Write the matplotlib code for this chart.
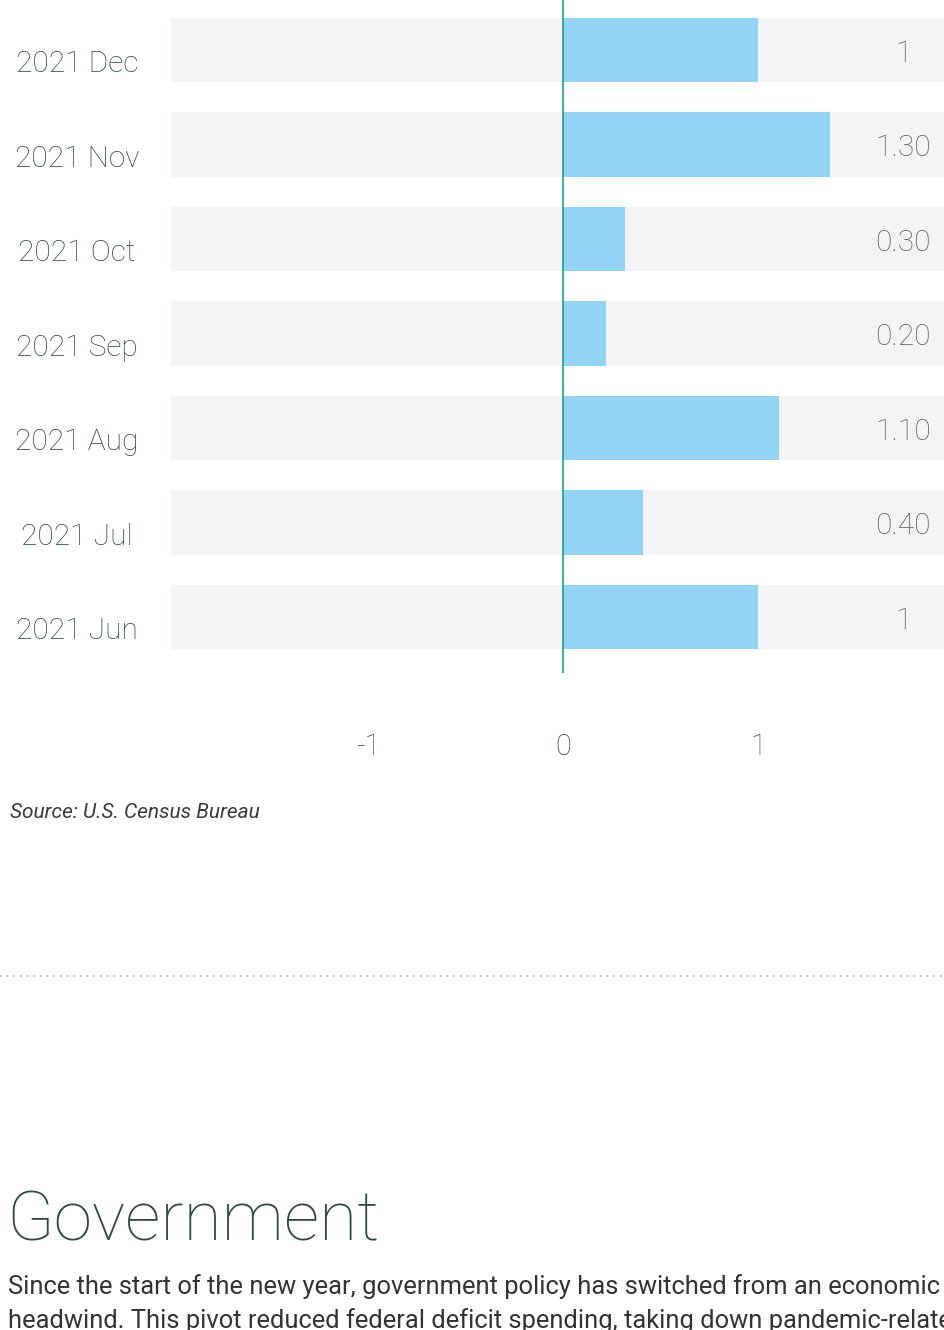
import matplotlib.pyplot as plt
import matplotlib.transforms as mtransforms

# data, bottom row first (Jun at the bottom of the picture)
months = ['2021 Jun', '2021 Jul', '2021 Aug', '2021 Sep', '2021 Oct', '2021 Nov', '2021 Dec']
values = [1.0, 0.41, 1.11, 0.22, 0.32, 1.37, 1.0]
value_labels = ['1', '0.40', '1.10', '0.20', '0.30', '1.30', '1']
xticks = [-1, 0, 1]
xtick_labels = ['-1', '0', '1']

W, H = 945, 1330
fig = plt.figure(figsize=(W / 100, H / 100), dpi=100)
plt.rcParams['font.family'] = ['Roboto', 'DejaVu Sans']

GREEN = '#2f4d3c'
ax = fig.add_axes([171 / W, 1 - 673 / H, 774 / W, 673 / H])
y = list(range(len(months)))

# grey tracks and blue bars
ax.barh(y, width=4, left=-2.01, height=0.68, color='#f3f4f6', zorder=1)
ax.barh(y, width=values, left=0, height=0.68, color='#93d3f3', zorder=2)
ax.axvline(0, color='#1f9f8a', lw=1.2, zorder=3)

ax.set_xlim(-2.01, 1.96)
ax.set_ylim(-0.593, 6.53)

for i, lab in enumerate(value_labels):
    ax.text(1.745, i - 0.04, lab, ha='center', va='center', fontsize=21.5,
            color='#5f5f5f', fontweight='light', zorder=4)

# month labels to the left of the tracks
tr = mtransforms.blended_transform_factory(fig.transFigure, ax.transData)
for i, m in enumerate(months):
    ax.text(77 / W, i - 0.15, m, transform=tr, ha='center', va='center',
            fontsize=21.5, color=GREEN, fontweight='light')

ax.set_yticks([])
ax.set_xticks(xticks, labels=xtick_labels)
ax.tick_params(axis='x', length=0, pad=43, labelsize=21, labelcolor=GREEN)
for lbl in ax.get_xticklabels():
    lbl.set_fontweight('light')
for s in ax.spines.values():
    s.set_visible(False)

fig.text(10 / W, 1 - 812 / H, 'Source: U.S. Census Bureau', fontsize=15,
         style='italic', color='#3a3a3a', va='center', ha='left')

# dotted separator
fig.add_artist(plt.Line2D([0, 1], [1 - 976 / H] * 2,
                          transform=fig.transFigure, color='#b5b5b5',
                          lw=1.2, linestyle=(0, (1, 3))))

fig.text(6 / W, 1 - 1222 / H, 'Government', fontsize=50, color='#2d4a3e',
         fontweight='light', va='center', ha='left')
fig.text(8 / W, 1 - 1287 / H,
         'Since the start of the new year, government policy has switched from an economic',
         fontsize=18.4, color='#333333', va='center', ha='left')
fig.text(8 / W, 1 - 1321 / H,
         'headwind. This pivot reduced federal deficit spending, taking down pandemic-related fiscal',
         fontsize=18.4, color='#333333', va='center', ha='left')

fig.savefig('out.png', dpi=100)
